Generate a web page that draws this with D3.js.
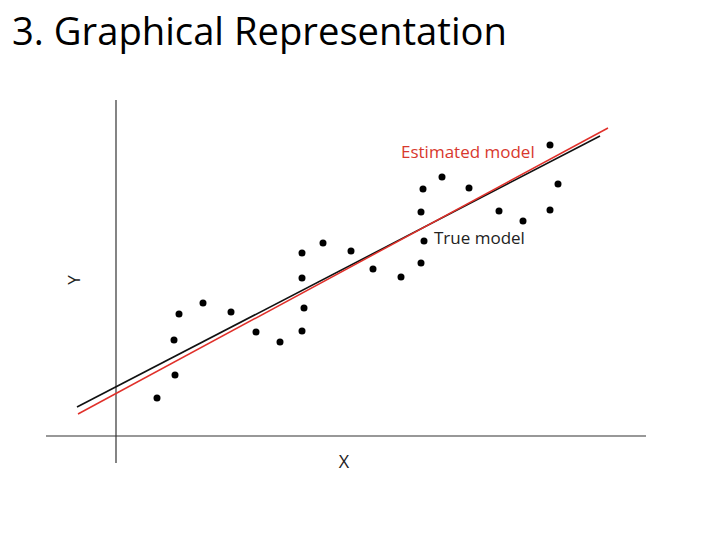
<!DOCTYPE html>
<html>
<head>
<meta charset="utf-8">
<script src="https://cdn.jsdelivr.net/npm/d3@7"></script>
<style>
  body { margin: 0; background: #fff; }
  svg { display: block; }
</style>
</head>
<body>
<script>
const width = 720;
const height = 540;

// observations (x, y)
const obsX = [4.1, 5.9, 5.8, 6.3, 8.7, 11.5, 14.0, 16.4, 18.6, 18.8, 18.6, 18.6, 20.7, 23.5,
    25.7, 28.5, 30.5, 30.8, 30.5, 30.7, 32.6, 35.3, 38.3, 40.7, 43.4, 44.2, 43.4];
const obsY = [3.8, 6.1, 9.6, 12.2, 13.3, 12.4, 10.4, 9.4, 10.5, 12.8, 15.8, 18.3, 19.3, 18.5,
    16.7, 15.9, 17.3, 19.5, 22.4, 24.7, 25.9, 24.8, 22.5, 21.5, 22.6, 25.2, 29.1];

// model lines: endpoints
const trueLineX = [-3.9, 48.4];
const trueLineY = [2.9, 30.0];
const estLineX = [-3.8, 49.2];
const estLineY = [2.2, 30.8];

const x = d3.scaleLinear().domain([-7, 53]).range([46, 646]);
const y = d3.scaleLinear().domain([-2.7, 33.6]).range([463, 100]);

const svg = d3.select("body")
    .append("svg")
    .attr("width", width)
    .attr("height", height);

svg.append("text")
    .attr("x", 12)
    .attr("y", 45)
    .attr("font-family", "Open Sans, sans-serif")
    .attr("font-size", 39)
    .attr("textLength", 495)
    .attr("lengthAdjust", "spacingAndGlyphs")
    .attr("fill", "#000")
    .text("3. Graphical Representation");

// axes through the origin
svg.append("line")
    .attr("x1", x(-7)).attr("x2", x(53))
    .attr("y1", y(0)).attr("y2", y(0))
    .attr("stroke", "#333").attr("stroke-width", 1.2);

svg.append("line")
    .attr("x1", x(0)).attr("x2", x(0))
    .attr("y1", y(-2.7)).attr("y2", y(33.6))
    .attr("stroke", "#333").attr("stroke-width", 1.2);

svg.append("text")
    .attr("x", 344)
    .attr("y", 468)
    .attr("text-anchor", "middle")
    .attr("font-family", "Open Sans, sans-serif")
    .attr("font-size", 18)
    .attr("fill", "#222")
    .text("X");

svg.append("text")
    .attr("transform", "translate(80,280) rotate(-90)")
    .attr("text-anchor", "middle")
    .attr("font-family", "Open Sans, sans-serif")
    .attr("font-size", 17)
    .attr("fill", "#222")
    .text("Y");

const line = d3.line()
    .x(d => x(d[0]))
    .y(d => y(d[1]));

svg.append("path")
    .datum(d3.zip(trueLineX, trueLineY))
    .attr("d", line)
    .attr("fill", "none")
    .attr("stroke", "#111")
    .attr("stroke-width", 1.6);

svg.append("path")
    .datum(d3.zip(estLineX, estLineY))
    .attr("d", line)
    .attr("fill", "none")
    .attr("stroke", "#e0302a")
    .attr("stroke-width", 1.5);

svg.append("g")
    .selectAll("circle")
    .data(d3.zip(obsX, obsY))
    .join("circle")
    .attr("cx", d => x(d[0]))
    .attr("cy", d => y(d[1]))
    .attr("r", 3.5)
    .attr("fill", "#000");

// line labels
svg.append("text")
    .attr("x", 401)
    .attr("y", 158)
    .attr("font-family", "Open Sans, sans-serif")
    .attr("font-size", 17)
    .attr("fill", "#d8382e")
    .text("Estimated model");

svg.append("text")
    .attr("x", 434)
    .attr("y", 244)
    .attr("font-family", "Open Sans, sans-serif")
    .attr("font-size", 17)
    .attr("fill", "#222")
    .text("True model");
</script>
</body>
</html>
